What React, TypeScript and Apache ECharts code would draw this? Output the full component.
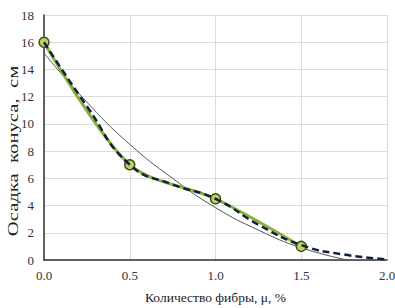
import React, { useEffect, useRef } from "react";
import * as echarts from "echarts";

// Measured points (green line with markers)
const fiberX = [0, 0.5, 1.0, 1.5];
const slumpY = [16, 7, 4.5, 1];

// Dashed curve (smoothed fit)
const dashX = [0, 0.25, 0.5, 0.75, 1.0, 1.25, 1.5, 1.75, 2.0];
const dashY = [16, 11.3, 7.0, 5.55, 4.5, 2.6, 1.1, 0.4, 0.05];

// Thin trend line
const trendX = [0, 0.25, 0.5, 0.75, 1.0, 1.25, 1.5, 1.77];
const trendY = [15.2, 11.6, 8.5, 6.0, 3.85, 2.2, 0.9, 0];

const xTicks = ["0.0", "0.5", "1.0", "1.5", "2.0"];
const yTitle = "Осадка  конуса,  см";
const xTitle = "Количество фибры, μ, %";

const pairs = (xs: number[], ys: number[]) => xs.map((x, i) => [x, ys[i]]);

export default function App() {
  const ref = useRef<HTMLDivElement>(null);
  useEffect(() => {
    if (!ref.current) return;
    const chart = echarts.init(ref.current, null, { renderer: "svg" });
    const font = "'Liberation Serif', 'Times New Roman', serif";
    chart.setOption({
      animation: false,
      backgroundColor: "#ffffff",
      grid: { left: 44, right: 8, top: 15, bottom: 48, outerBoundsMode: "none", containLabel: false },
      graphic: [
        {
          type: "text",
          x: 13,
          y: 151,
          rotation: Math.PI / 2,
          scaleX: 1.38,
          style: {
            text: yTitle,
            fontFamily: font,
            fontSize: 15,
            fill: "#222",
            textAlign: "center",
            textVerticalAlign: "middle",
          },
        },
      ],
      xAxis: {
        type: "value",
        min: 0,
        max: 2,
        interval: 0.5,
        name: xTitle,
        nameLocation: "middle",
        nameGap: 30,
        nameTextStyle: { fontFamily: font, fontSize: 13.5, color: "#222" },
        axisLine: { show: true, lineStyle: { color: "#333", width: 1.5 } },
        axisTick: { show: false },
        axisLabel: {
          fontFamily: font,
          fontSize: 13,
          color: "#333",
          margin: 9,
          formatter: (v: number) => xTicks[Math.round(v / 0.5)] ?? String(v),
        },
        splitLine: { show: true, lineStyle: { color: "#dcdcdc", width: 1 } },
      },
      yAxis: {
        type: "value",
        min: 0,
        max: 18,
        interval: 2,
        axisLine: { show: true, lineStyle: { color: "#333", width: 1.5 } },
        axisTick: { show: false },
        axisLabel: { fontFamily: font, fontSize: 13, color: "#333", margin: 10 },
        splitLine: { show: true, lineStyle: { color: "#dcdcdc", width: 1 } },
      },
      series: [
        {
          type: "line",
          data: pairs(trendX, trendY),
          smooth: true,
          showSymbol: false,
          lineStyle: { color: "#555555", width: 1 },
          z: 1,
        },
        {
          type: "line",
          data: pairs(fiberX, slumpY),
          smooth: 0.3,
          symbol: "circle",
          symbolSize: 10,
          itemStyle: { color: "#bdd460", borderColor: "#3d4a1c", borderWidth: 1.5 },
          lineStyle: { color: "#86b03c", width: 3 },
          z: 2,
        },
        {
          type: "line",
          data: pairs(dashX, dashY),
          smooth: true,
          showSymbol: false,
          lineStyle: { color: "#14213d", width: 2.5, type: [7, 4] },
          z: 3,
        },
      ],
    });
    return () => chart.dispose();
  }, []);
  return <div ref={ref} style={{ width: 395, height: 308, position: "absolute", left: 0, top: 0 }} />;
}
